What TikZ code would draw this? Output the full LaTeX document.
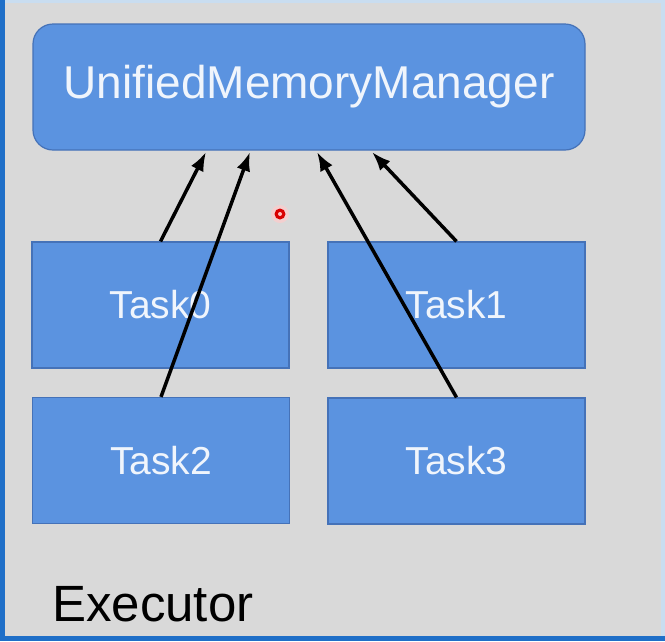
\documentclass[tikz,border=0pt]{standalone}
\usepackage{fontspec}
\setmainfont{Liberation Sans}
\usepackage{tikz}
\usetikzlibrary{arrows.meta}
\definecolor{panelgray}{HTML}{D9D9D9}
\definecolor{boxblue}{HTML}{5B93E0}
\definecolor{boxedge}{HTML}{4572B8}
\definecolor{framelight}{HTML}{C9DDF0}
\definecolor{frameblue}{HTML}{1F6FC8}
\definecolor{labelwhite}{HTML}{F0F5FC}
\tikzset{
  mgrbox/.style={draw=boxedge, fill=boxblue, line width=1.2pt, rounded corners=20pt,
    minimum width=552pt, minimum height=126pt, text=labelwhite,
    font=\fontsize{46}{50}\selectfont},
  taskbox/.style={draw=boxedge, fill=boxblue, line width=1.2pt,
    minimum width=257pt, minimum height=126pt, text=labelwhite,
    font=\fontsize{39}{42}\selectfont},
  link/.style={-{Latex[length=19pt, width=14pt]}, line width=3.5pt, black}
}

\begin{document}
\begin{tikzpicture}[x=1pt, y=-1pt]
            \useasboundingbox (0, 0) rectangle (665, 641);
            \fill[panelgray] (0, 0) rectangle (665, 641);
            \fill[framelight] (0, 0) rectangle (665, 3);
            \fill[framelight] (661, 0) rectangle (665, 641);
            \fill[frameblue] (0, 0) rectangle (5, 641);
            \fill[frameblue] (0, 636) rectangle (665, 641);
            \node[mgrbox] (mgr) at (309, 87) {UnifiedMemoryManager};
            \node[taskbox] (task0) at (160.5, 305) {Task0};
            \node[taskbox] (task1) at (456.5, 305) {Task1};
            \node[taskbox] (task2) at (161, 460.5) {Task2};
            \node[taskbox] (task3) at (456.5, 461) {Task3};
            \coordinate (in0) at (206, 152);
            \coordinate (in1) at (250, 152);
            \coordinate (in2) at (317, 152);
            \coordinate (in3) at (372, 152);
            \draw[link] (task0.north) -- (in0);
            \draw[link] (task2.north) -- (in1);
            \draw[link] (task3.north) -- (in2);
            \draw[link] (task1.north) -- (in3);
            \fill[red!20, opacity=0.7] (280, 214) circle (9);
            \fill[red!85!black] (280, 214) circle (5.5);
            \fill[red!25] (280, 214) circle (2);
            \node[anchor=base west, inner sep=0, font=\fontsize{51}{54}\selectfont] (exec) at (52, 621) {Executor};
        \end{tikzpicture}
\end{document}
